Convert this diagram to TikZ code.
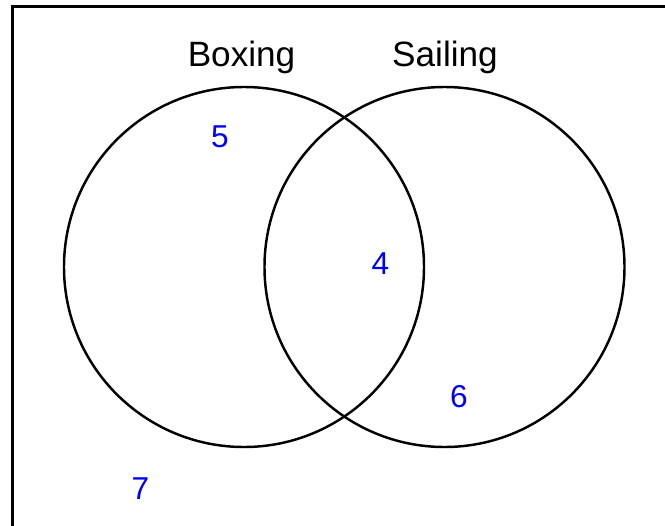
\documentclass[tikz,border=0pt]{standalone}
\usepackage{fontspec}
\setmainfont{Liberation Sans}

\begin{document}
\begin{tikzpicture}[
    x=0.03cm, y=-0.03cm,
    set/.style={circle, draw, line width=2.1pt, minimum size=10.8cm, inner sep=0pt},
    title/.style={anchor=base, font=\fontsize{30}{35}\selectfont},
    count/.style={text=blue, font=\fontsize{27}{31}\selectfont, inner sep=0pt}
  ]
  \useasboundingbox (0,0) rectangle (665,525);
  \clip (0,0) rectangle (665,525);

  % Universo
  \draw[line width=3pt] (12.5,6.5) rectangle (700,560);

  % Conjuntos
  \node[set] (boxing) at (244,267) {};
  \node[set] (sailing) at (444.5,267) {};

  % Nombres
  \node[title] (boxlbl) at (241.5,66) {Boxing};
  \node[title] (saillbl) at (445,66) {Sailing};

  % Cantidades
  \node[count] (onlybox) at (220,137) {5};
  \node[count] (both) at (380.5,264) {4};
  \node[count] (onlysail) at (459,397) {6};
  \node[count] (neither) at (140.5,489) {7};
\end{tikzpicture}
\end{document}
